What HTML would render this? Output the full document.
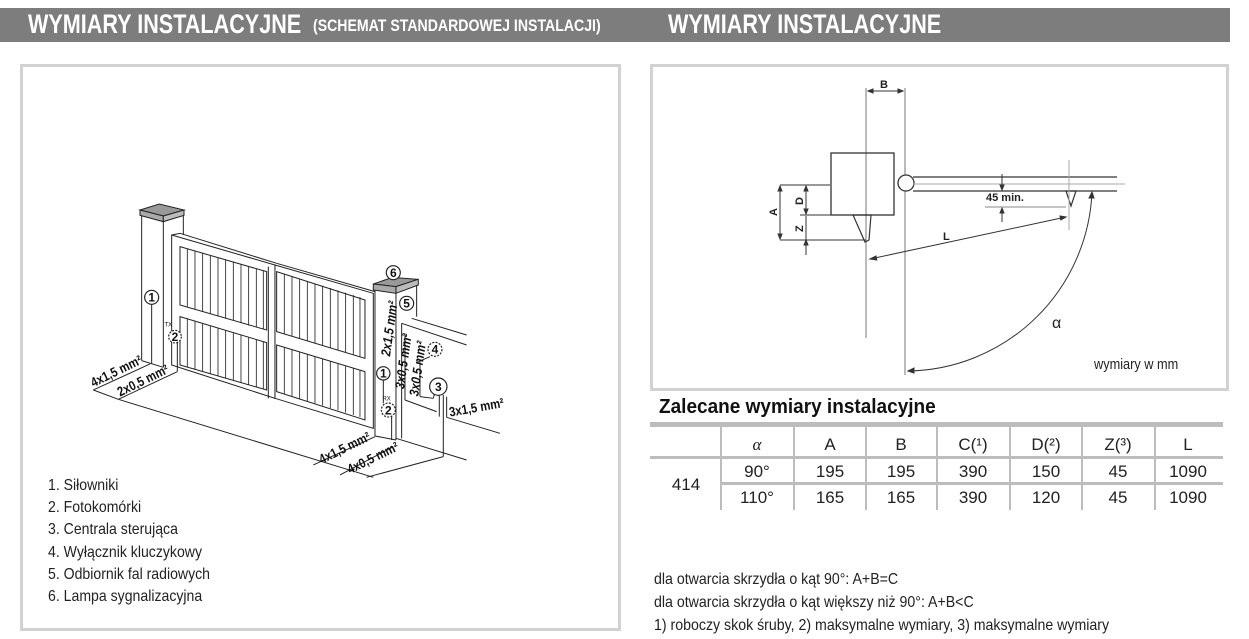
<!DOCTYPE html>
<html><head><meta charset="utf-8"><style>
body{margin:0;width:1249px;height:639px;background:#fff;overflow:hidden;position:relative;font-family:"Liberation Sans",sans-serif;}
.bar{position:absolute;left:0;top:8px;width:1230px;height:34px;background:#7d7d7d;}
.t{position:absolute;color:#fff;font-weight:bold;white-space:nowrap;transform-origin:0 0}
.panel{position:absolute;border:3px solid #d2d2d2;box-sizing:border-box;background:#fff}
.tx{position:absolute;white-space:nowrap;color:#222;font-size:15px;transform-origin:0 0}
</style></head><body>
<div class="bar"></div>
<div class="t" style="left:28px;top:9px;font-size:27px;transform:scaleX(0.8)">WYMIARY INSTALACYJNE</div>
<div class="t" style="left:313px;top:16px;font-size:17px;transform:scaleX(0.83)">(SCHEMAT STANDARDOWEJ INSTALACJI)</div>
<div class="t" style="left:668px;top:9px;font-size:27px;transform:scaleX(0.8)">WYMIARY INSTALACYJNE</div>
<div class="panel" style="left:20px;top:64px;width:601px;height:567px"></div>
<div class="panel" style="left:650px;top:64px;width:579px;height:327px"></div>

<svg style="position:absolute;left:0;top:0" width="1249" height="639">
<g transform="translate(100,190) scale(0.3333)" stroke="#222" stroke-width="3" fill="none" font-family="Liberation Sans, sans-serif">
 <polygon points="120,60 178,42 252,60 190,78" fill="#999"/>
 <polygon points="120,60 190,78 190,95 120,76" fill="#aaa"/>
 <polygon points="190,78 252,60 252,76 190,95" fill="#bbb"/>
 <line x1="125" y1="76" x2="125" y2="512"/><line x1="190" y1="95" x2="190" y2="532"/><line x1="250" y1="76" x2="250" y2="135"/>
 <line x1="125" y1="512" x2="190" y2="532"/>
 <polygon points="215,135 525,225 525,625 215,525" fill="#fff"/>
 <line x1="215" y1="135" x2="240" y2="130"/><line x1="240" y1="130" x2="530" y2="220"/>
 <polygon points="240,170 500,245 500,420 240,345"/>
 <polygon points="240,380 500,458 500,600 240,525"/>
 <g stroke-width="2.5">
 <path d="M262,176V352M285,183V358M308,190V365M331,196V372M354,203V379M377,210V386M400,216V392M423,223V399M446,230V406M469,236V412M490,242V418"/>
 <path d="M262,387V531M285,393V538M308,400V545M331,407V552M354,414V558M377,421V565M400,428V572M423,435V578M446,442V585M469,449V591M490,455V597"/>
 </g>
 <polygon points="525,225 820,310 820,715 525,625" fill="#fff"/>
 <line x1="530" y1="220" x2="825" y2="305"/>
 <polygon points="530,245 795,330 795,505 530,425"/>
 <polygon points="530,465 795,545 795,690 530,605"/>
 <line x1="505" y1="230" x2="505" y2="625"/>
 <g stroke-width="2.5">
 <path d="M553,252V432M576,259V439M599,266V446M622,273V453M645,280V460M668,287V467M691,294V474M714,301V481M737,308V488M760,315V495M780,321V501"/>
 <path d="M553,472V612M576,479V619M599,486V626M622,493V633M645,500V640M668,507V647M691,514V654M714,521V661M737,528V668M760,535V675M780,541V681"/>
 </g>
 <polygon points="820,282 878,262 955,268 888,290" fill="#999"/>
 <polygon points="820,282 888,290 888,310 820,300" fill="#aaa"/>
 <polygon points="888,290 955,268 955,285 888,310" fill="#bbb"/>
 <line x1="825" y1="300" x2="825" y2="738"/><line x1="888" y1="310" x2="888" y2="750"/><line x1="950" y1="285" x2="950" y2="380"/>
 <line x1="825" y1="738" x2="888" y2="750"/>
 <line x1="935" y1="385" x2="1100" y2="435"/><line x1="905" y1="400" x2="1100" y2="465"/><line x1="905" y1="400" x2="905" y2="745"/>
 <line x1="915" y1="430" x2="915" y2="630"/><line x1="915" y1="630" x2="1010" y2="665"/>
 <line x1="955" y1="515" x2="990" y2="500"/><line x1="960" y1="515" x2="960" y2="620"/><line x1="960" y1="620" x2="1000" y2="625"/><line x1="1000" y1="625" x2="1005" y2="605"/>
 <line x1="1018" y1="615" x2="1018" y2="680"/><line x1="1030" y1="615" x2="1030" y2="800"/>
 <line x1="1040" y1="682" x2="1200" y2="730"/><line x1="1040" y1="620" x2="1040" y2="682"/>
 <line x1="-20" y1="600" x2="150" y2="522"/><line x1="55" y1="628" x2="232" y2="545"/><line x1="-20" y1="600" x2="55" y2="628"/>
 <line x1="55" y1="628" x2="820" y2="862"/><line x1="232" y1="545" x2="232" y2="430"/><line x1="155" y1="522" x2="155" y2="340"/>
 <line x1="640" y1="825" x2="825" y2="740"/><line x1="720" y1="855" x2="880" y2="770"/><line x1="800" y1="862" x2="1030" y2="800"/>
 <line x1="888" y1="745" x2="1100" y2="810"/><line x1="875" y1="680" x2="875" y2="750"/><line x1="850" y1="568" x2="850" y2="640"/>
 <g fill="#fff" stroke-width="3.5">
 <circle cx="155" cy="322" r="21"/><circle cx="880" cy="248" r="21"/><circle cx="920" cy="340" r="21"/><circle cx="850" cy="550" r="20"/><circle cx="1015" cy="590" r="26"/>
 <circle cx="225" cy="440" r="19" stroke-dasharray="6 4"/><circle cx="1005" cy="478" r="21" stroke-dasharray="6 4"/><circle cx="865" cy="660" r="21" stroke-dasharray="6 4"/>
 </g>
 <g fill="#111" stroke="none" font-weight="bold" font-size="36" text-anchor="middle">
 <text x="155" y="335">1</text><text x="880" y="261">6</text><text x="920" y="353">5</text><text x="850" y="563">1</text><text x="1015" y="603">3</text>
 <text x="225" y="453">2</text><text x="1005" y="491">4</text><text x="865" y="673">2</text>
 <text x="205" y="410" font-size="18" font-weight="normal">TX</text><text x="860" y="632" font-size="18" font-weight="normal">RX</text>
 </g>
 <g fill="#111" stroke="none" font-size="40" font-style="italic" font-weight="bold">
 <text transform="translate(870,500) rotate(-82) scale(0.85,1)">2x1,5 mm²</text>
 <text transform="translate(912,598) rotate(-82) scale(0.85,1)">3x0,5 mm²</text>
 <text transform="translate(955,620) rotate(-82) scale(0.85,1)">3x0,5 mm²</text>
 <text transform="translate(1050,680) rotate(-10) scale(0.85,1)" font-style="normal">3x1,5 mm²</text>
 <text transform="translate(665,822) rotate(-26) scale(0.85,1)" font-style="normal">4x1,5 mm²</text>
 <text transform="translate(750,852) rotate(-26) scale(0.85,1)" font-style="normal">4x0,5 mm²</text>
 <text transform="translate(-20,592) rotate(-26) scale(0.85,1)" font-style="normal">4x1,5 mm²</text>
 <text transform="translate(60,620) rotate(-26) scale(0.85,1)" font-style="normal">2x0,5 mm²</text>
 </g>
</g>

<g stroke="#333" stroke-width="1" fill="none" font-family="Liberation Sans, sans-serif">
 <line x1="866" y1="88" x2="866" y2="338" stroke="#777"/><line x1="905" y1="88" x2="905" y2="375" stroke="#777"/>
 <line x1="868" y1="91" x2="903" y2="91"/><path d="M868,91l5,-2v4zM903,91l-5,-2v4z" fill="#333"/>
 <rect x="831" y="153" width="63" height="62" stroke-width="1.3"/>
 <circle cx="906" cy="183" r="8" fill="#fff" stroke-width="1.3"/>
 <line x1="913" y1="177" x2="1117" y2="177" stroke-width="1.3"/><line x1="913" y1="191" x2="1117" y2="191" stroke-width="1.3"/>
 <line x1="913" y1="184" x2="1125" y2="184" stroke="#aaa"/>
 <line x1="780" y1="185" x2="830" y2="185"/><line x1="800" y1="215" x2="866" y2="215"/><line x1="780" y1="240" x2="866" y2="240"/>
 <line x1="780" y1="186" x2="780" y2="239"/><path d="M780,186l-2,5h4zM780,239l-2,-5h4z" fill="#333"/>
 <line x1="806" y1="186" x2="806" y2="214"/><path d="M806,186l-2,5h4zM806,214l-2,-5h4z" fill="#333"/>
 <line x1="806" y1="216" x2="806" y2="255"/><path d="M806,240l-2,5h4z" fill="#333"/>
 <path d="M853,215L871,215L869,240L865,242Z" stroke-width="1.2"/>
 <path d="M1066,191L1076,191L1071,206Z" stroke-width="1.2"/>
 <line x1="1069" y1="160" x2="1069" y2="230" stroke="#aaa"/>
 <line x1="1002" y1="174" x2="1002" y2="190"/><path d="M1002,190l-2,-5h4z" fill="#333"/>
 <line x1="1002" y1="208" x2="1002" y2="222"/><path d="M1002,208l-2,5h4z" fill="#333"/>
 <line x1="985" y1="207" x2="1066" y2="207" stroke="#888"/>
 <line x1="870" y1="259" x2="1066" y2="217"/><path d="M870,259l6,-3l0.8,4zM1066,217l-6,-1l0.8,4z" fill="#333"/>
 <path d="M1092,192 A187,187 0 0 1 908,371"/><path d="M1092,192l-3,6h5zM908,371l6,-3v5z" fill="#333"/>
 <g fill="#222" stroke="none" font-weight="bold" font-size="11">
  <text x="880" y="88">B</text>
  <text transform="translate(777,216) rotate(-90)">A</text>
  <text transform="translate(803,205) rotate(-90)">D</text>
  <text transform="translate(803,232) rotate(-90)">Z</text>
  <text x="986" y="201" font-size="11">45 min.</text>
  <text x="943" y="240">L</text>
 </g>
 <text x="1052" y="328" fill="#222" stroke="none" font-size="16">α</text>
</g>
</svg>
<div class="tx" style="left:1094px;top:356px;font-size:15px;transform:scaleX(0.85)">wymiary w mm</div>

<div class="tx" style="left:48px;top:475px;line-height:22.2px;font-size:16px;transform:scaleX(0.88)">1. Siłowniki<br>2. Fotokomórki<br>3. Centrala sterująca<br>4. Wyłącznik kluczykowy<br>5. Odbiornik fal radiowych<br>6. Lampa sygnalizacyjna</div>

<div class="tx" style="left:659px;top:396px;font-size:20px;font-weight:bold;color:#111;transform:scaleX(0.95)">Zalecane wymiary instalacyjne</div>
<div style="position:absolute;left:650px;top:422px;width:573px;height:5px;background:#bdbdbd"></div>
<div style="position:absolute;left:650px;top:456px;width:573px;height:3px;background:#bdbdbd"></div>
<div style="position:absolute;left:721px;top:482px;width:502px;height:3px;background:#bdbdbd"></div>
<svg style="position:absolute;left:0;top:0" width="1249" height="639">
 <g stroke="#bdbdbd" stroke-width="2">
 <line x1="721" y1="427" x2="721" y2="510"/><line x1="794" y1="427" x2="794" y2="510"/><line x1="866" y1="427" x2="866" y2="510"/><line x1="937" y1="427" x2="937" y2="510"/><line x1="1010" y1="427" x2="1010" y2="510"/><line x1="1082" y1="427" x2="1082" y2="510"/><line x1="1155" y1="427" x2="1155" y2="510"/>
 </g>
 <g font-family="Liberation Sans, sans-serif" font-size="17" fill="#222" text-anchor="middle">
 <text x="757" y="450" font-family="Liberation Serif, serif" font-style="italic">α</text><text x="830" y="450">A</text><text x="901" y="450">B</text><text x="973" y="450">C(¹)</text><text x="1046" y="450">D(²)</text><text x="1118" y="450">Z(³)</text><text x="1188" y="450">L</text>
 <text x="757" y="477">90°</text><text x="830" y="477">195</text><text x="901" y="477">195</text><text x="973" y="477">390</text><text x="1046" y="477">150</text><text x="1118" y="477">45</text><text x="1188" y="477">1090</text>
 <text x="757" y="503">110°</text><text x="830" y="503">165</text><text x="901" y="503">165</text><text x="973" y="503">390</text><text x="1046" y="503">120</text><text x="1118" y="503">45</text><text x="1188" y="503">1090</text>
 <text x="686" y="490">414</text>
 </g>
</svg>
<div class="tx" style="left:654px;top:569px;line-height:22.8px;font-size:16px;transform:scaleX(0.885)">dla otwarcia skrzydła o kąt 90°: A+B=C<br>dla otwarcia skrzydła o kąt większy niż 90°: A+B&lt;C<br>1) roboczy skok śruby, 2) maksymalne wymiary, 3) maksymalne wymiary</div>
</body></html>
